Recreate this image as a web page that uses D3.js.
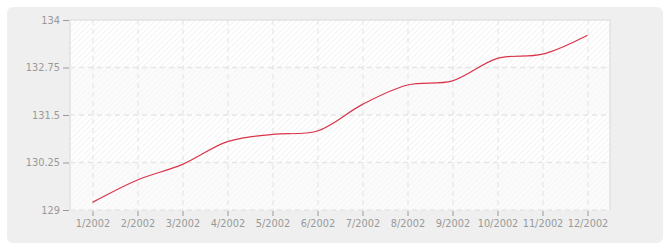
<!DOCTYPE html>
<html>
<head>
<meta charset="utf-8">
<script src="https://cdn.jsdelivr.net/npm/d3@7"></script>
<style>
  body { margin: 0; background: #fff; }
  text { font-family: "DejaVu Sans", Verdana, sans-serif; }
</style>
</head>
<body>
<svg id="chart" width="670" height="250"></svg>
<script>
// Chart data
const months = ["1/2002", "2/2002", "3/2002", "4/2002", "5/2002", "6/2002",
                "7/2002", "8/2002", "9/2002", "10/2002", "11/2002", "12/2002"];
const values = [129.2, 129.79, 130.2, 130.8, 130.99, 131.08,
                131.78, 132.29, 132.4, 132.99, 133.1, 133.6];
const yTicks = [129, 130.25, 131.5, 132.75, 134];

const svg = d3.select("#chart");
const plot = { left: 70, right: 610, top: 20, bottom: 210 };

// Outer gray panel
svg.append("rect")
    .attr("x", 7).attr("y", 7)
    .attr("width", 656).attr("height", 236)
    .attr("rx", 6)
    .attr("fill", "#efefef");

// Hatch patterns
const defs = svg.append("defs");
function hatch(id, bg, stroke) {
    const p = defs.append("pattern")
        .attr("id", id)
        .attr("patternUnits", "userSpaceOnUse")
        .attr("width", 4).attr("height", 4)
        .attr("patternTransform", "rotate(45)");
    p.append("rect").attr("width", 4).attr("height", 4).attr("fill", bg);
    p.append("line").attr("x1", 0).attr("y1", 0).attr("x2", 0).attr("y2", 4)
        .attr("stroke", stroke).attr("stroke-width", 1.2);
}
hatch("hatchA", "#ffffff", "#ececec");
hatch("hatchB", "#fbfbfb", "#f3f3f3");

const x = d3.scalePoint()
    .domain(months)
    .range([plot.left, plot.right])
    .padding(0.5);

const y = d3.scaleLinear()
    .domain([129, 134])
    .range([plot.bottom, plot.top]);

// Alternating bands
svg.selectAll("rect.band")
    .data(d3.pairs(yTicks))
    .join("rect")
    .attr("class", "band")
    .attr("x", plot.left)
    .attr("y", d => y(d[1]))
    .attr("width", plot.right - plot.left)
    .attr("height", d => y(d[0]) - y(d[1]))
    .attr("fill", (d, i) => (yTicks.length - 2 - i) % 2 === 0 ? "url(#hatchA)" : "url(#hatchB)");

// Plot borders (top, right, left)
svg.append("path")
    .attr("d", `M${plot.left},${plot.bottom}V${plot.top}H${plot.right}V${plot.bottom}`)
    .attr("fill", "none")
    .attr("stroke", "#e2e2e2")
    .attr("stroke-width", 1.5);

// Grid lines
svg.append("g")
    .selectAll("line")
    .data(yTicks.slice(0, -1))
    .join("line")
    .attr("x1", plot.left).attr("x2", plot.right)
    .attr("y1", d => y(d)).attr("y2", d => y(d))
    .attr("stroke", "#e6e6e6")
    .attr("stroke-width", 1.5)
    .attr("stroke-dasharray", "5,4");

svg.append("g")
    .selectAll("line")
    .data(months)
    .join("line")
    .attr("x1", d => x(d) + 0.5).attr("x2", d => x(d) + 0.5)
    .attr("y1", plot.top).attr("y2", plot.bottom)
    .attr("stroke", "#e2e2e2")
    .attr("stroke-width", 1)
    .attr("stroke-dasharray", "5,4");

// Y axis
const yAxis = svg.append("g")
    .attr("transform", `translate(${plot.left - 1},0)`)
    .call(d3.axisLeft(y).tickValues(yTicks).tickSize(6).tickPadding(3).tickFormat(d => d));
yAxis.select(".domain").remove();

// X axis
const xAxis = svg.append("g")
    .attr("transform", `translate(0,${plot.bottom + 1})`)
    .call(d3.axisBottom(x).tickSize(5).tickPadding(4));
xAxis.select(".domain").remove();

svg.selectAll(".tick line").attr("stroke", "#999");
svg.selectAll(".tick text")
    .attr("fill", "#999")
    .style("font-size", "9.8px")
    .style("font-family", "'DejaVu Sans', Verdana, sans-serif");

// Line
const line = d3.line()
    .x((d, i) => x(months[i]))
    .y(d => y(d))
    .curve(d3.curveCatmullRom.alpha(0.5));

svg.append("path")
    .datum(values)
    .attr("d", line)
    .attr("fill", "none")
    .attr("stroke", "#d8354b")
    .attr("stroke-width", 1.2);
</script>
</body>
</html>
